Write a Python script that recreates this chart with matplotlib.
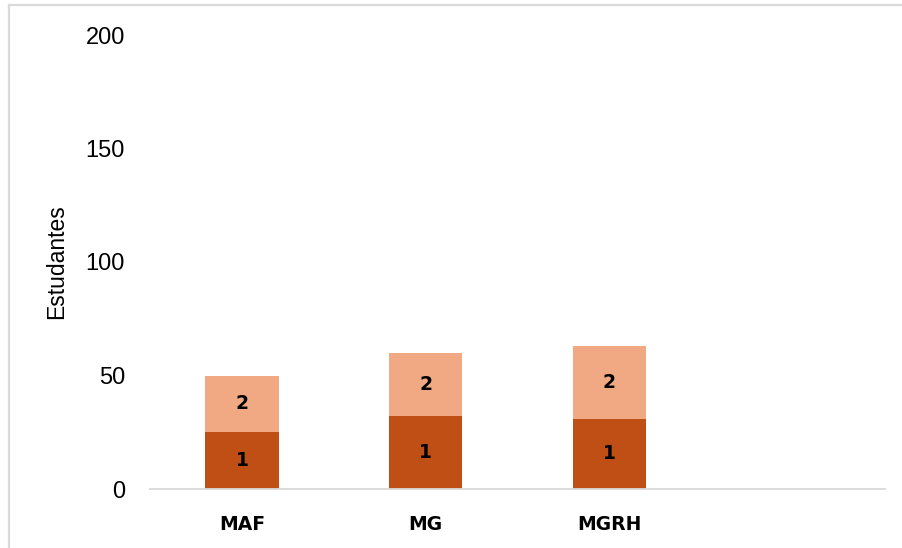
import matplotlib.pyplot as plt
from matplotlib.lines import Line2D

# categories (the fourth slot is empty in the original chart)
categories = ["MAF", "MG", "MGRH", ""]
series_names = ["1", "2"]
values_1 = [25, 32, 31]
values_2 = [25, 28, 32]

COLOR_1 = "#C04F15"
COLOR_2 = "#F1A983"
AXIS_GRAY = "#D9D9D9"


def main():
    fig = plt.figure(figsize=(9.02, 5.48), dpi=100)
    ax = fig.add_axes([150 / 902, 1 - 489 / 548, 735 / 902, (489 - 35) / 548])

    x = list(range(len(values_1)))
    bars1 = ax.bar(x, values_1, width=0.4, color=COLOR_1, zorder=2)
    bars2 = ax.bar(x, values_2, width=0.4, bottom=values_1, color=COLOR_2, zorder=2)

    # series name as data label in the middle of each segment
    for bars, name in zip([bars1, bars2], series_names):
        for b in bars:
            ax.text(b.get_x() + b.get_width() / 2, b.get_y() + b.get_height() / 2,
                    name, ha="center", va="center", fontsize=13.5,
                    fontweight="bold", color="black", zorder=3)

    ax.set_xlim(-0.5, len(categories) - 0.5)
    ax.set_ylim(0, 200)
    ax.set_yticks([0, 50, 100, 150, 200])
    ax.set_xticks(range(len(categories)))
    ax.set_xticklabels(categories, fontsize=13.5, fontweight="bold")
    ax.tick_params(axis="x", length=0, pad=19)
    ax.tick_params(axis="y", length=0, pad=18, labelsize=17)
    for lab in ax.get_yticklabels():
        lab.set_fontfamily("Liberation Sans")

    ax.set_ylabel("Estudantes", fontsize=16.5, fontfamily="Liberation Sans")
    ax.yaxis.set_label_coords(-0.1116, 0.5)

    for side in ["top", "right", "left"]:
        ax.spines[side].set_visible(False)
    ax.spines["bottom"].set_color(AXIS_GRAY)
    ax.spines["bottom"].set_linewidth(1.3)

    # light frame along the top and left edge of the picture
    fig.add_artist(Line2D([9 / 902, 1], [1 - 5 / 548, 1 - 5 / 548],
                          color=AXIS_GRAY, lw=1.6, transform=fig.transFigure))
    fig.add_artist(Line2D([9 / 902, 9 / 902], [0, 1 - 5 / 548],
                          color=AXIS_GRAY, lw=1.6, transform=fig.transFigure))

    fig.savefig("out.png", dpi=100)


if __name__ == "__main__":
    main()
